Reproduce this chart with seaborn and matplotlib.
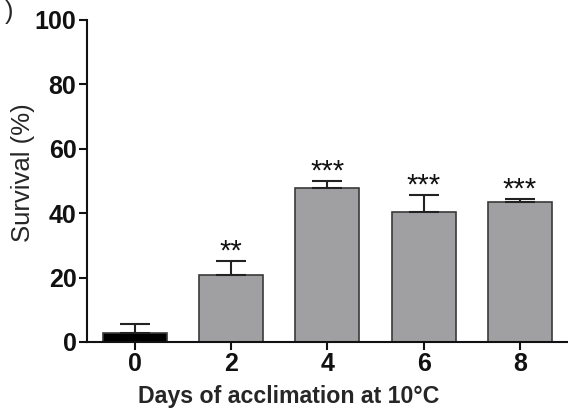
import matplotlib
matplotlib.use("Agg")
import matplotlib.pyplot as plt
import seaborn as sns
import numpy as np

# data
days = ["0", "2", "4", "6", "8"]
survival = [2.8, 20.8, 47.7, 40.3, 43.4]
sem = [2.8, 4.4, 2.3, 5.3, 1.0]
signif = ["", "**", "***", "***", "***"]

bar_colors = ["#000000", "#a09fa4", "#a09fa4", "#a09fa4", "#a09fa4"]

sns.set_theme(style="ticks")
plt.rcParams["font.family"] = ["Liberation Sans", "DejaVu Sans"]

fig = plt.figure(figsize=(5.68, 4.13), dpi=100)
ax = fig.add_axes([0.153, 0.172, 0.847, 0.78])

sns.barplot(x=days, y=survival, hue=days, palette=bar_colors, legend=False,
            width=0.665, edgecolor="#3a3a3a", linewidth=1.2, ax=ax)

xpos = np.arange(len(days))
ax.errorbar(xpos, survival, yerr=[np.zeros(len(sem)), sem], fmt="none",
            ecolor="#222222", elinewidth=1.5, capsize=11, capthick=1.5, zorder=1)

for x, m, s, lab in zip(xpos, survival, sem, signif):
    if lab:
        ax.text(x, m + s - 1.5, lab, ha="center", va="bottom",
                fontsize=21, color="#111111")

ax.set_xlim(-0.5, 4.5)
ax.set_ylim(0, 100)
ax.set_yticks([0, 20, 40, 60, 80, 100])
ax.set_xlabel("Days of acclimation at 10°C", fontsize=16.7, fontweight="bold")
ax.set_ylabel("Survival (%)", fontsize=18.5)
ax.xaxis.set_label_coords(0.42, -0.135)
ax.yaxis.set_label_coords(-0.108, 0.525)
ax.tick_params(axis="both", labelsize=18, width=1.5, length=6, color="#111111",
               labelcolor="#111111", pad=1.5)
for lbl in ax.get_xticklabels() + ax.get_yticklabels():
    lbl.set_fontweight("bold")

for side in ["top", "right"]:
    ax.spines[side].set_visible(False)
for side in ["left", "bottom"]:
    ax.spines[side].set_linewidth(1.5)
    ax.spines[side].set_color("#111111")

# panel letter, only its closing bracket shows in the original
fig.text(0.008, 1.0, ")", fontsize=18, ha="left", va="top")

fig.savefig("out.png", dpi=100)
